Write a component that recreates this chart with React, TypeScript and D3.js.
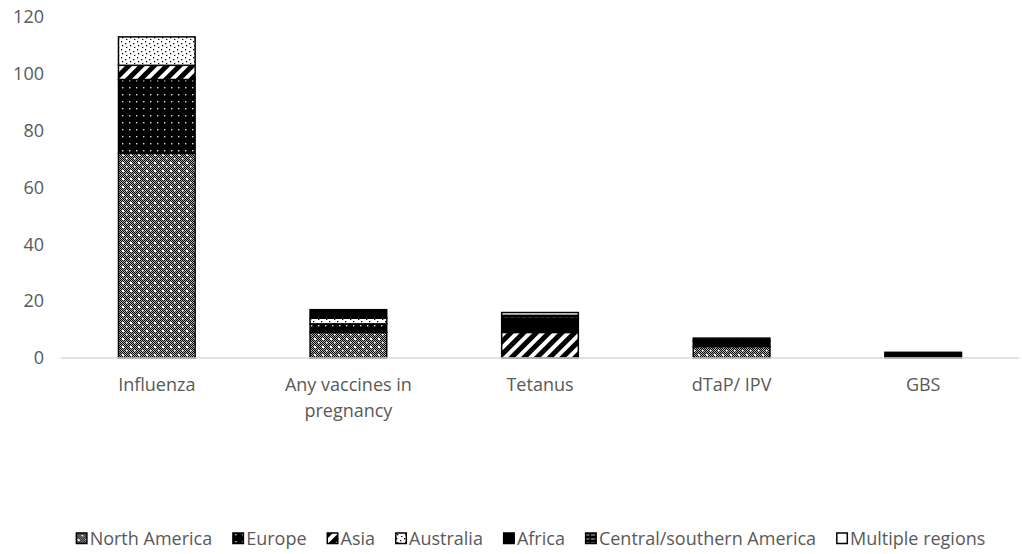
import React, { useEffect, useRef } from "react";
import * as d3 from "d3";

const categories = ["Influenza", "Any vaccines in pregnancy", "Tetanus", "dTaP/ IPV", "GBS"];
const seriesNames = ["North America", "Europe", "Asia", "Australia", "Africa", "Central/southern America", "Multiple regions"];
const northAmerica = [72, 9, 0, 4, 0];
const europe = [26, 3, 0, 0, 0];
const asia = [5, 0, 9, 0, 0];
const australia = [10, 2, 0, 0, 0];
const africa = [0, 3, 5, 2, 2];
const centralSouthernAmerica = [0, 0, 1, 1, 0];
const multipleRegions = [0, 0, 1, 0, 0];
const yTicks = [0, 20, 40, 60, 80, 100, 120];

const W = 1022, H = 554;
const FONT = "'Open Sans', 'Liberation Sans', sans-serif";
const TXT = "#595959";
const FS = 18;

export default function App() {
  const ref = useRef<SVGSVGElement>(null);
  useEffect(() => {
    const svg = d3.select(ref.current);
    svg.selectAll("*").remove();
    const defs = svg.append("defs");

    // patterns
    const pNA = defs.append("pattern").attr("id", "pNA").attr("patternUnits", "userSpaceOnUse").attr("width", 8).attr("height", 8);
    pNA.append("rect").attr("width", 8).attr("height", 8).attr("fill", "#aaa");
    for (let i = 0; i < 8; i++) for (let j = 0; j < 8; j++) if ((i + j) % 2 === 0) pNA.append("rect").attr("x", i).attr("y", j).attr("width", 1).attr("height", 1).attr("fill", "#000");
    pNA.append("rect").attr("x", 2).attr("y", 2).attr("width", 2).attr("height", 2).attr("fill", "#fff");
    pNA.append("rect").attr("x", 6).attr("y", 6).attr("width", 1.5).attr("height", 1.5).attr("fill", "#fff");

    const pEU = defs.append("pattern").attr("id", "pEU").attr("patternUnits", "userSpaceOnUse").attr("width", 7).attr("height", 7);
    pEU.append("rect").attr("width", 7).attr("height", 7).attr("fill", "#000");
    pEU.append("rect").attr("x", 3).attr("y", 3).attr("width", 1.4).attr("height", 1.4).attr("fill", "#ddd");

    const pAS = defs.append("pattern").attr("id", "pAS").attr("patternUnits", "userSpaceOnUse").attr("width", 9).attr("height", 9).attr("patternTransform", "rotate(45)");
    pAS.append("rect").attr("width", 9).attr("height", 9).attr("fill", "#fff");
    pAS.append("rect").attr("width", 5).attr("height", 9).attr("fill", "#000");

    const pAU = defs.append("pattern").attr("id", "pAU").attr("patternUnits", "userSpaceOnUse").attr("width", 8).attr("height", 8);
    pAU.append("rect").attr("width", 8).attr("height", 8).attr("fill", "#fff");
    [[1, 1], [5, 3], [2, 5], [6, 7]].forEach(([x, y]) => pAU.append("rect").attr("x", x).attr("y", y).attr("width", 1.3).attr("height", 1.3).attr("fill", "#000"));

    const pAF = defs.append("pattern").attr("id", "pAF").attr("patternUnits", "userSpaceOnUse").attr("width", 4).attr("height", 4);
    pAF.append("rect").attr("width", 4).attr("height", 4).attr("fill", "#000");

    const pCS = defs.append("pattern").attr("id", "pCS").attr("patternUnits", "userSpaceOnUse").attr("width", 6).attr("height", 4);
    pCS.append("rect").attr("width", 6).attr("height", 4).attr("fill", "#000");
    pCS.append("rect").attr("x", 0).attr("y", 1.5).attr("width", 4.5).attr("height", 1).attr("fill", "#bbb");

    const pMR = defs.append("pattern").attr("id", "pMR").attr("patternUnits", "userSpaceOnUse").attr("width", 4).attr("height", 4);
    pMR.append("rect").attr("width", 4).attr("height", 4).attr("fill", "#fff");

    const fills = ["url(#pNA)", "url(#pEU)", "url(#pAS)", "url(#pAU)", "url(#pAF)", "url(#pCS)", "url(#pMR)"];
    const seriesVals = [northAmerica, europe, asia, australia, africa, centralSouthernAmerica, multipleRegions];

    const rows = categories.map((c, i) => {
      const r: any = { cat: c };
      seriesNames.forEach((s, k) => (r[s] = seriesVals[k][i]));
      return r;
    });
    const stacked = d3.stack<any>().keys(seriesNames)(rows);

    const x = d3.scaleBand().domain(categories).range([61, 1019]).paddingInner(0.6).paddingOuter(0.3);
    const y = d3.scaleLinear().domain([0, 120]).range([358, 17]);

    // y labels
    svg.append("g").selectAll("text").data(yTicks).join("text")
      .attr("x", 44).attr("y", (d) => y(d)).attr("dy", "0.35em").attr("text-anchor", "end")
      .attr("font-family", FONT).attr("font-size", FS).attr("fill", TXT).text((d) => d);

    // bars
    stacked.forEach((layer, k) => {
      svg.append("g").selectAll("rect").data(layer.filter((d) => d[1] - d[0] > 0)).join("rect")
        .attr("x", (d) => x(d.data.cat)!)
        .attr("width", x.bandwidth())
        .attr("y", (d) => y(d[1]))
        .attr("height", (d) => y(d[0]) - y(d[1]))
        .attr("fill", fills[k])
        .attr("stroke", "#000").attr("stroke-width", 1.5);
    });

    // axis line
    svg.append("line").attr("x1", 61).attr("x2", 1019).attr("y1", y(0)).attr("y2", y(0)).attr("stroke", "#d9d9d9").attr("stroke-width", 1.3);

    // category labels
    const lines: Record<string, string[]> = { "Any vaccines in pregnancy": ["Any vaccines in", "pregnancy"] };
    categories.forEach((c) => {
      const ls = lines[c] || [c];
      const t = svg.append("text").attr("x", x(c)! + x.bandwidth() / 2).attr("y", 391)
        .attr("text-anchor", "middle").attr("font-family", FONT).attr("font-size", FS).attr("fill", TXT);
      ls.forEach((l, i) => t.append("tspan").attr("x", x(c)! + x.bandwidth() / 2).attr("dy", i === 0 ? 0 : 26).text(l));
    });

    // legend
    const lg = svg.append("g");
    let cx = 0;
    const items: { g: any; w: number }[] = [];
    seriesNames.forEach((s, k) => {
      const g = lg.append("g");
      g.append("rect").attr("x", 0.75).attr("y", -12).attr("width", 10.5).attr("height", 10.5).attr("fill", fills[k]).attr("stroke", "#000").attr("stroke-width", 1.5);
      const t = g.append("text").attr("x", 14).attr("y", 0).attr("font-family", FONT).attr("font-size", FS).attr("fill", TXT).text(s);
      const w = 14 + (t.node() as SVGTextElement).getComputedTextLength();
      items.push({ g, w });
    });
    const gap = 20;
    const total = items.reduce((a, b) => a + b.w, 0) + gap * (items.length - 1);
    cx = 530.5 - total / 2;
    items.forEach((it) => {
      it.g.attr("transform", `translate(${cx},545)`);
      cx += it.w + gap;
    });
  }, []);
  return (
    <svg ref={ref} width={W} height={H} style={{ position: "absolute", left: 0, top: 0, background: "#fff" }} />
  );
}
